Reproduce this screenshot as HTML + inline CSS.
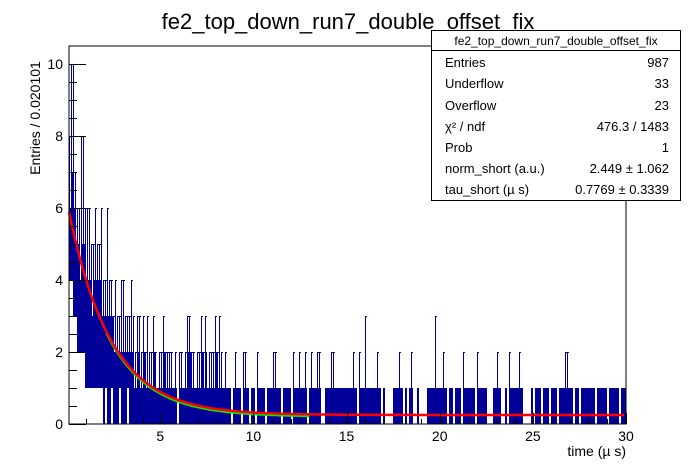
<!DOCTYPE html>
<html><head><meta charset="utf-8"><style>
body{margin:0;background:#fff;}
svg{display:block;font-family:"Liberation Sans",sans-serif;}
</style></head><body>
<svg id="c" width="696" height="472" viewBox="0 0 696 472">
<rect width="696" height="472" fill="#fff"/>
<text x="348" y="29" font-size="22" text-anchor="middle">fe2_top_down_run7_double_offset_fix</text>
<g id="hist" shape-rendering="crispEdges"></g>
<g id="fit"></g>
<rect x="69" y="46" width="557" height="378" fill="none" stroke="#000" stroke-width="1"/>
<g id="axes" shape-rendering="crispEdges"></g>
<text transform="translate(40,118) rotate(-90)" font-size="14" text-anchor="middle">Entries / 0.020101</text>
<text x="626" y="456" font-size="14" text-anchor="end">time (µ s)</text>
<g>
<rect x="431.5" y="30.5" width="249" height="170" fill="#fff" stroke="#000"/>
<line x1="431.5" y1="50.5" x2="680.5" y2="50.5" stroke="#000"/>
<text x="556" y="45" font-size="12" text-anchor="middle">fe2_top_down_run7_double_offset_fix</text>
<g font-size="13">
<text x="445" y="67">Entries</text><text x="669" y="67" text-anchor="end">987</text>
<text x="445" y="88">Underflow</text><text x="669" y="88" text-anchor="end">33</text>
<text x="445" y="110">Overflow</text><text x="669" y="110" text-anchor="end">23</text>
<text x="445" y="131">χ² / ndf</text><text x="669" y="131" text-anchor="end">476.3 / 1483</text>
<text x="445" y="152">Prob</text><text x="669" y="152" text-anchor="end">1</text>
<text x="445" y="173">norm_short (a.u.)</text><text x="669" y="173" text-anchor="end">2.449 ± 1.062</text>
<text x="445" y="194">tau_short (µ s)</text><text x="669" y="194" text-anchor="end">0.7769 ± 0.3339</text>
</g></g>
</svg>
<script>
// column-aggregated histogram content (each column = ~0.107 µs)
const colMax = [8,10,10,7,6,6,8,8,6,6, 6,5,5,6,5,5,6,4,4,6, 4,4,3,4,3,3,4,4,3,3, 3,4,3,2,3,3,2,3,2,3,
 2,2,3,2,1,2,2,3,2,2, 2,2,1,2,0,2,2,1,2,3, 3,2,2,1,2,2,3,2,3,1, 2,2,2,3,2,3,2,1,2,1,
 1,0,1,2,1,1,0,2,2,1, 0,1,1,0,2,1,1,1,0,1, 1,1,2,2,1,1,0,1,1,1, 1,0,2,1,1,2,1,1,2,0,
 1,2,1,1,2,2,0,0,1,1, 1,2,2,1,1,1,1,1,1,1, 1,1,2,1,0,2,1,1,3,1, 1,1,1,1,2,1,0,1,0,0,
 0,0,1,1,1,2,1,0,1,0, 1,2,0,0,1,0,0,0,0,1, 1,1,1,3,1,1,1,2,1,0, 1,1,0,1,1,1,0,2,1,1,
 1,1,1,0,2,1,1,1,1,0, 0,0,1,1,2,1,0,0,1,0, 2,1,1,1,1,2,1,0,0,0, 0,1,0,1,1,1,0,1,1,1,
 0,1,1,1,0,1,1,1,2,2, 1,1,0,1,1,0,1,1,1,1, 1,1,1,0,1,1,1,1,1,0, 1,1,1,1,1,0,1,1,1];
// solid-fill level per column (where bins are dense)
const colFill = [6,7,6,5,5,4,5,5,4,4, 4,3,4,4,4,4,3,3,3,3, 3,3,2,2,2,2,2,2,2,2, 2,2,1,1,2,1,1,2,1,1,
 1,1,2,1,1,1,1,2,1,1, 1,1,1,1,0,1,1,1,1,2, 2,1,1,1,1,1,2,1,2,1, 1,1,1,2,1,1,1,1,1,1];
const colMin = [4,4,3,3,2,2,2,2,1,1, 1,1,1,1,1,1,1,0,1,0, 0,1,0,0,0,1,0,0,0,1];
const fitA = 5.9, fitTau = 2.25, fitC = 0.25;
const xTicks = [5,10,15,20,25,30];
const yTicks = [0,2,4,6,8,10];
const tMin = 0.1, tMax = 30, colW = 0.1073;

const NS = "http://www.w3.org/2000/svg";
const X = t => 69 + (t - tMin) / (tMax - tMin) * 557;
const Y = v => 424 - v * 36;
function mk(tag, attrs, parent){const e=document.createElementNS(NS,tag);for(const k in attrs)e.setAttribute(k,attrs[k]);parent.appendChild(e);return e;}

const hist = document.getElementById('hist');
colMax.forEach((m,i)=>{
  const lo = colMin[i] || 0;
  if (m <= 0) return;
  const fillTop = Math.min(m, colFill[i] !== undefined ? colFill[i] : Math.min(m,1));
  const t0 = tMin + i*colW, t1 = Math.min(tMax, t0 + colW);
  const xa = Math.round(X(t0)), xb = Math.round(X(t1));
  const w = Math.max(1, xb - xa);
  if (fillTop > lo) {
    const r = mk('rect',{x:xa,y:Y(fillTop),width:w,height:Y(lo)-Y(fillTop),fill:'#000099'},hist);
    
    
  }
  if (m > fillTop || fillTop <= lo) {
    const xl = xa + 0.5;
    const s = mk('line',{x1:xl,x2:xl,y1:Y(m),y2:Y(Math.max(lo,0)),stroke:'#000099','stroke-width':1},hist);
    
    
    const h = mk('line',{x1:xa,x2:xa+w,y1:Y(m)+0.5,y2:Y(m)+0.5,stroke:'#000099','stroke-width':1},hist);
    
    
  }
});

const fit = document.getElementById('fit');
const f = t => fitC + fitA*Math.exp(-t/fitTau);
let pg = '';
for (let t=2.1; t<=13; t+=0.1) pg += (pg?'L':'M') + X(t).toFixed(1) + ',' + Y(f(t)-0.05).toFixed(1);
const g = mk('path',{d:pg,fill:'none',stroke:'#00ee00','stroke-width':2},fit);


let pr = '';
for (let t=tMin; t<=tMax; t+=0.1) pr += (pr?'L':'M') + X(t).toFixed(1) + ',' + Y(f(t)).toFixed(1);
const r = mk('path',{d:pr,fill:'none',stroke:'#ff0000','stroke-width':2.5},fit);



const ax = document.getElementById('axes');
for (let t=1; t<=30; t++){
  const major = t%5===0;
  const xt = Math.round(X(t)) + 0.5;
  mk('line',{x1:xt,x2:xt,y1:424,y2:424-(major?11:5),stroke:'#000'},ax);
}
xTicks.forEach(t=>{
  const l = mk('text',{x:X(t),y:441,'font-size':14,'text-anchor':'middle'},ax);
  l.textContent = t;
  
  
});
for (let v=0; v<=10.01; v+=0.5){
  const major = Math.abs(v - Math.round(v/2)*2) < 0.01;
  mk('line',{x1:69,x2:69+(major?17:8),y1:Y(v)+0.5,y2:Y(v)+0.5,stroke:'#000'},ax);
}
yTicks.forEach(v=>{
  const l = mk('text',{x:63,y:Y(v)+5,'font-size':14,'text-anchor':'end'},ax);
  l.textContent = v;
  
  
});
</script>
</body></html>
